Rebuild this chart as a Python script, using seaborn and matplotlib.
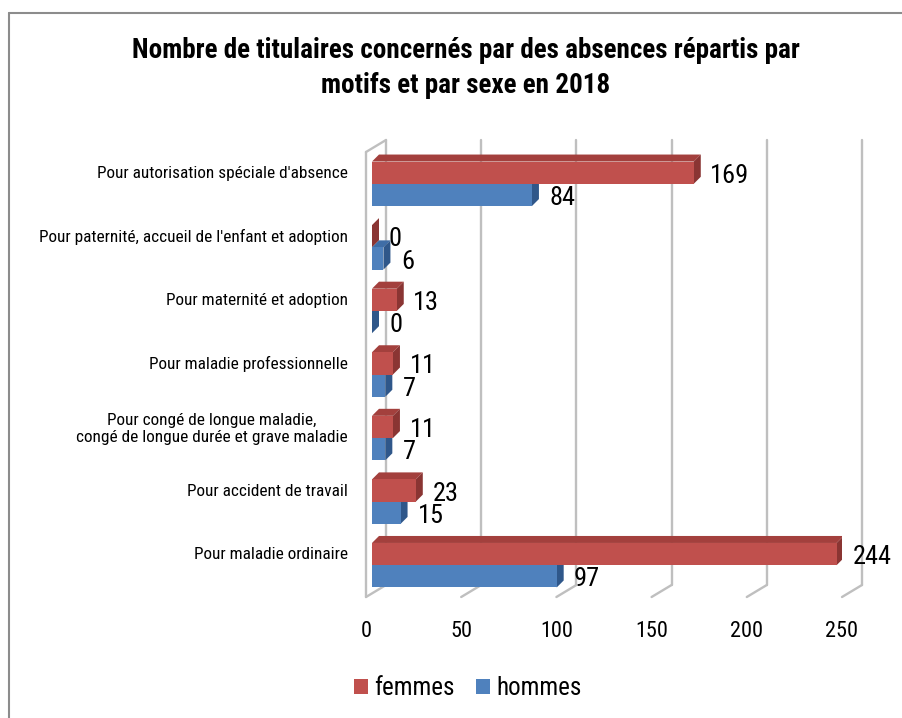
import matplotlib
matplotlib.use('Agg')
import matplotlib.pyplot as plt
import seaborn as sns
import pandas as pd
from matplotlib.patches import Polygon, Patch
from matplotlib.lines import Line2D
import matplotlib.transforms as mtransforms
from matplotlib import font_manager as fm

# ---------------- data ----------------
categories = ["Pour autorisation spéciale d'absence",
              "Pour paternité, accueil de l'enfant et adoption",
              "Pour maternité et adoption",
              "Pour maladie professionnelle",
              "Pour congé de longue maladie,\ncongé de longue durée et grave maladie",
              "Pour accident de travail",
              "Pour maladie ordinaire"]
femmes = [169, 0, 13, 11, 11, 23, 244]
hommes = [84, 6, 0, 7, 7, 15, 97]
series = ["femmes", "hommes"]
x_ticks = [0, 50, 100, 150, 200, 250]
title = "Nombre de titulaires concernés par des absences répartis par\nmotifs et par sexe en 2018"

# ---------------- style ----------------
colors = {"femmes": "#C0504D", "hommes": "#4F81BD"}
dark = {"femmes": "#8A3533", "hommes": "#2F578A"}
top_col = {"femmes": "#A3403D", "hommes": "#3F6DA6"}
grid_col = "#BFBFBF"

df = pd.DataFrame({"motif": categories * 2,
                   "sexe": [series[0]] * len(categories) + [series[1]] * len(categories),
                   "n": femmes + hommes})

sns.set_theme(style="white")
installed = {f.name for f in fm.fontManager.ttflist}
pref = ['Ubuntu Condensed', 'Roboto Condensed', 'PT Sans Narrow',
        'Liberation Sans Narrow', 'DejaVu Sans']
body = [f for f in pref if f in installed][:1] + ['DejaVu Sans']
plt.rcParams['font.family'] = body
plt.rcParams['text.color'] = 'black'
plt.rcParams['xtick.color'] = 'black'
plt.rcParams['ytick.color'] = 'black'

W, H = 903, 718
fig = plt.figure(figsize=(W / 100, H / 100), dpi=100)
fig.patch.set_facecolor('white')
ax_l, ax_r, ax_t, ax_b = 366, 842, 152, 597
ax = fig.add_axes([ax_l / W, 1 - ax_b / H, (ax_r - ax_l) / W, (ax_b - ax_t) / H])

sns.barplot(data=df, y="motif", x="n", hue="sexe", palette=colors, orient="h",
            width=0.7, ax=ax, legend=False, saturation=1, errorbar=None)

xmax = x_ticks[-1]
ax.set_xlim(0, xmax)
ax.set_ylim(len(categories) - 0.5, -0.5)
for s in ax.spines.values():
    s.set_visible(False)
ax.set_facecolor('none')

sx = xmax / (ax_r - ax_l)            # data units per px (x)
sy = len(categories) / (ax_b - ax_t)  # data units per px (y)

# bars sit at mid-depth: shifted a few px right of the front wall
bar_shift = mtransforms.ScaledTranslation(6 / 100, 0, fig.dpi_scale_trans)
bar_tr = ax.transData + bar_shift

# bar 3D faces
ddx, ddy = 7 * sx, 7 * sy
for cont, s in zip(ax.containers, series):
    for p in cont:
        x0, y0 = p.get_x(), p.get_y()
        w, h = p.get_width(), p.get_height()
        p.set_zorder(3)
        p.set_edgecolor('none')
        p.set_transform(bar_tr)
        ax.add_patch(Polygon([(x0, y0), (x0 + ddx, y0 - ddy), (x0 + w + ddx, y0 - ddy), (x0 + w, y0)],
                             closed=True, facecolor=top_col[s], edgecolor='none', zorder=2,
                             transform=bar_tr))
        ax.add_patch(Polygon([(x0 + w, y0), (x0 + w + ddx, y0 - ddy), (x0 + w + ddx, y0 + h - ddy), (x0 + w, y0 + h)],
                             closed=True, facecolor=dark[s], edgecolor='none', zorder=2,
                             transform=bar_tr))
    pad = 12 if s == series[0] else 12.5
    anns = ax.bar_label(cont, fmt='%d', padding=pad, fontsize=19, color='black')
    for a in anns:
        a.xyann = (pad + 4.3, -2.2)

# back wall gridlines + floor diagonals
DX, DY = 20 * sx, 12 * sy
ytop, ybot = -0.5, len(categories) - 0.5
for t in x_ticks:
    ax.plot([t + DX, t + DX], [ytop - DY, ybot - DY], color=grid_col, lw=1.7, clip_on=False, zorder=0)
    ax.plot([t, t + DX], [ybot, ybot - DY], color=grid_col, lw=1.7, clip_on=False, zorder=0)
# left wall
ax.plot([0, 0], [ytop, ybot], color=grid_col, lw=1.7, clip_on=False, zorder=0)
ax.plot([0, DX], [ytop, ytop - DY], color=grid_col, lw=1.7, clip_on=False, zorder=0)

ax.set_xticks(x_ticks)
ax.set_xticklabels([str(t) for t in x_ticks])
ax.tick_params(axis='x', length=0, pad=17, labelsize=16, labelcolor='black')
ax.tick_params(axis='y', length=0, pad=13, labelsize=12.4, labelcolor='black')
ax.set_xlabel('')
ax.set_ylabel('')
off = mtransforms.ScaledTranslation(0, 12 / 100, fig.dpi_scale_trans)
for lab in ax.get_yticklabels():
    lab.set_transform(lab.get_transform() + off)
    lab.set_multialignment('center')

# title
fig.text(466 / W, 1 - 68 / H, title, ha='center', va='center', fontsize=19.5,
         fontweight='bold', linespacing=1.38, color='black')

# legend
handles = [Patch(facecolor=colors[s], edgecolor='none') for s in series]
fig.legend(handles, series, loc='center', bbox_to_anchor=(468 / W, 1 - 688 / H), ncol=2,
           frameon=False, fontsize=18, handlelength=0.56, handleheight=0.56,
           handletextpad=0.25, columnspacing=0.85)

# chart border
fig.add_artist(Line2D([9 / W, 9 / W], [0, 1 - 13 / H], color='#8C8C8C', lw=1.5, transform=fig.transFigure))
fig.add_artist(Line2D([9 / W, 1], [1 - 13 / H, 1 - 13 / H], color='#8C8C8C', lw=1.5, transform=fig.transFigure))

fig.savefig('out.png', dpi=100, facecolor='white')
